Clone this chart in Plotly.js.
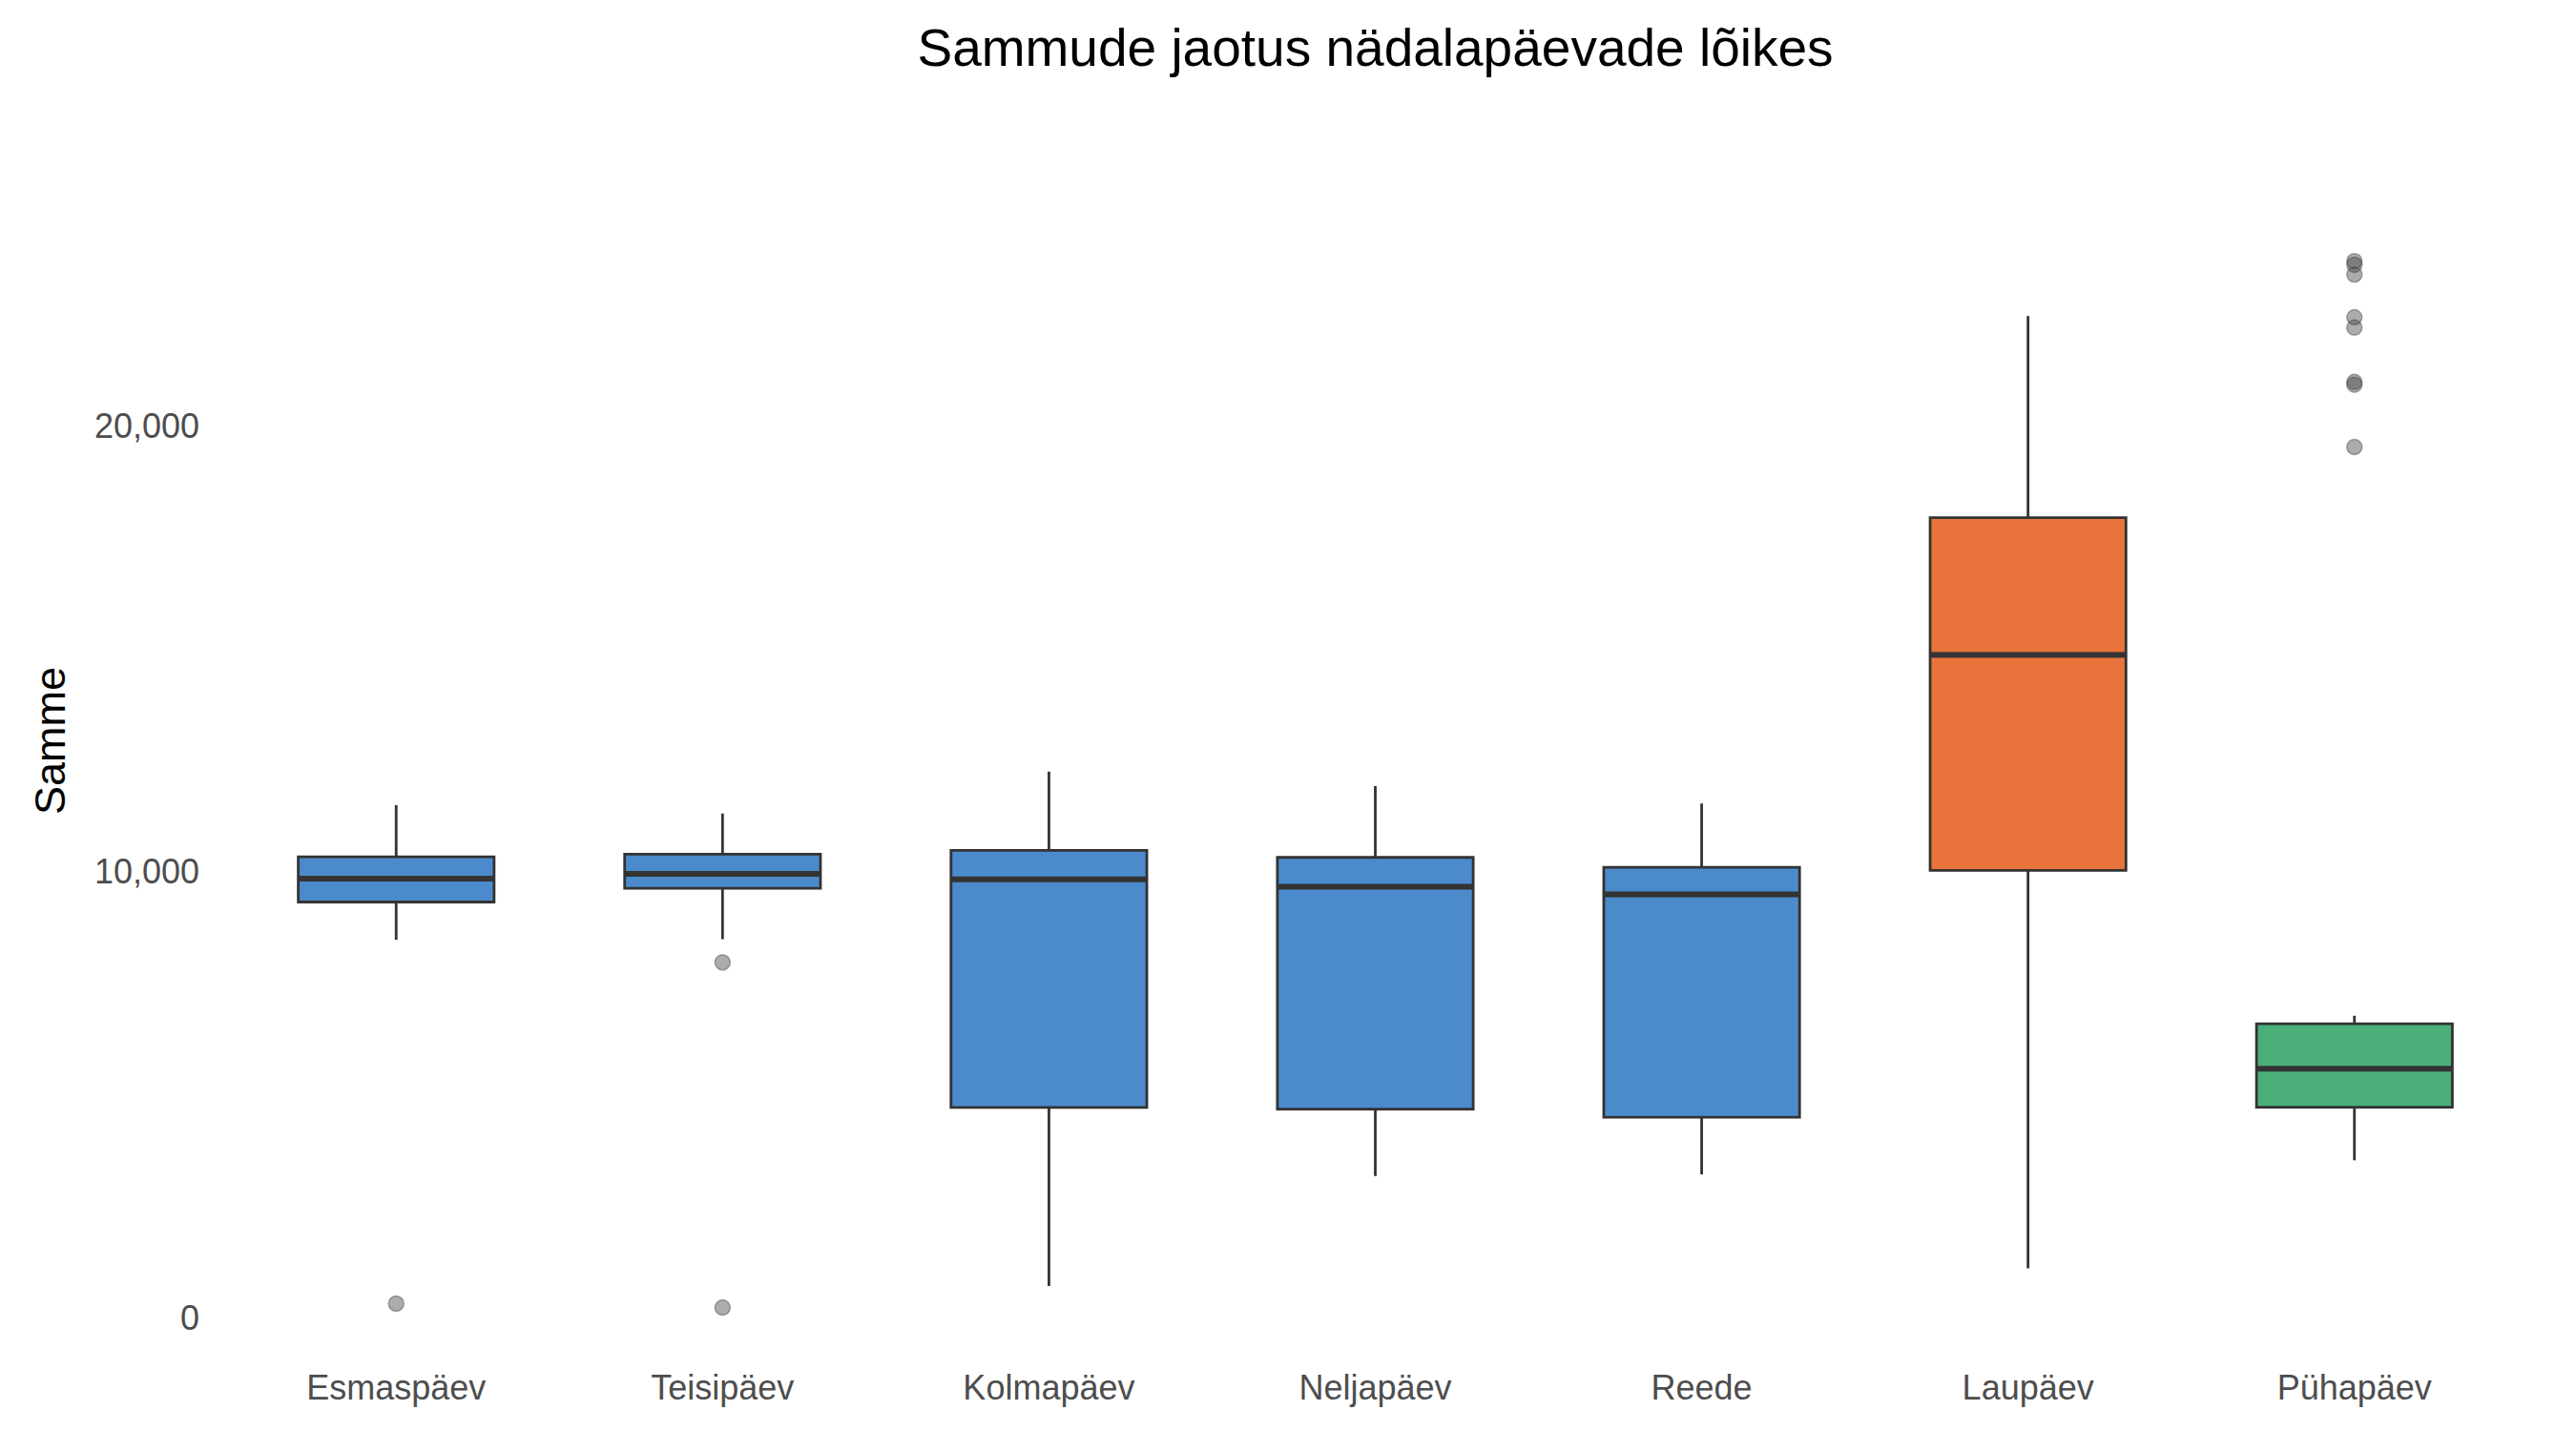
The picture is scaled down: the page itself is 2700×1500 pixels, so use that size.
<!DOCTYPE html>
<html>
<head>
<meta charset="utf-8">
<script src="https://cdn.plot.ly/plotly-3.0.1.min.js"></script>
<style>html,body{margin:0;padding:0;background:#fff;}#chart{width:2700px;height:1500px;}</style>
</head>
<body>
<div id="chart"></div>
<script>
// Categories (weekdays)
const days = ['Esmaspäev','Teisipäev','Kolmapäev','Neljapäev','Reede','Laupäev','Pühapäev'];
// Box statistics per day (steps)
const q1 = [9321, 9630, 4711, 4672, 4490, 10028, 4717];
const median = [9843, 9951, 9829, 9662, 9490, 14867, 5582];
const q3 = [10336, 10392, 10478, 10321, 10099, 17946, 6589];
const lowerWhisker = [8473, 8486, 707, 3173, 3212, 1103, 3527];
const upperWhisker = [11492, 11306, 12248, 11919, 11531, 22470, 6767];
// Outliers
const outlierDay = ['Esmaspäev','Teisipäev','Teisipäev','Pühapäev','Pühapäev','Pühapäev','Pühapäev','Pühapäev','Pühapäev','Pühapäev','Pühapäev'];
const outlierSteps = [310, 7966, 221, 23700, 23620, 23400, 22440, 22210, 20990, 20930, 19530];
// Group colours
const fillColors = ['#4B8BCB','#4B8BCB','#4B8BCB','#4B8BCB','#4B8BCB','#E8743C','#4BAF7A'];
// Tick labels
const yTickVals = [0, 10000, 20000];

const FONT = 'Liberation Sans, Arial, Helvetica, sans-serif';
const traces = [];
days.forEach((d, i) => {
  traces.push({
    type: 'box', x: [d],
    q1: [q1[i]], median: [median[i]], q3: [q3[i]],
    lowerfence: [lowerWhisker[i]], upperfence: [upperWhisker[i]],
    width: 0.6, whiskerwidth: 0, boxpoints: false,
    fillcolor: fillColors[i],
    line: {color: '#333333', width: 2.8},
    showlegend: false, hoverinfo: 'skip'
  });
});
// thicker median lines (degenerate boxes at the median)
days.forEach((d, i) => {
  traces.push({
    type: 'box', x: [d],
    q1: [median[i]], median: [median[i]], q3: [median[i]],
    lowerfence: [median[i]], upperfence: [median[i]],
    width: 0.6, whiskerwidth: 0, boxpoints: false,
    fillcolor: 'rgba(0,0,0,0)',
    line: {color: '#333333', width: 6},
    showlegend: false, hoverinfo: 'skip'
  });
});
traces.push({
  type: 'scatter', mode: 'markers', x: outlierDay, y: outlierSteps,
  marker: {size: 16, color: 'rgba(70,70,70,0.45)', line: {color: 'rgba(70,70,70,0.45)', width: 1.5}},
  showlegend: false, hoverinfo: 'skip'
});

const layout = {
  width: 2700, height: 1500,
  paper_bgcolor: '#ffffff', plot_bgcolor: '#ffffff',
  margin: {l: 210, r: 27, t: 220, b: 70},
  boxmode: 'overlay',
  font: {family: FONT, color: '#4d4d4d'},
  title: {text: 'Sammude jaotus nädalapäevade lõikes', font: {family: FONT, size: 55, color: '#000000'},
          x: 0.5, xanchor: 'center', xref: 'paper', y: 1 - 50/1500, yanchor: 'middle', yref: 'container'},
  xaxis: {type: 'category', categoryorder: 'array', categoryarray: days, range: [-0.6, 6.6],
          showgrid: false, zeroline: false, showline: false, ticks: '',
          tickfont: {family: FONT, size: 36, color: '#4d4d4d'}},
  yaxis: {range: [-1050, 24850], tickvals: yTickVals, tickformat: ',d',
          showgrid: false, zeroline: false, showline: false, ticks: '',
          tickfont: {family: FONT, size: 36, color: '#4d4d4d'}},
  annotations: [{text: 'Samme', xref: 'paper', yref: 'paper', x: (52-210)/2463, y: (1430-777)/1210,
                 xanchor: 'center', yanchor: 'middle', textangle: -90, showarrow: false,
                 font: {family: FONT, size: 45, color: '#000000'}}]
};
Plotly.newPlot('chart', traces, layout, {staticPlot: true});
</script>
</body>
</html>
